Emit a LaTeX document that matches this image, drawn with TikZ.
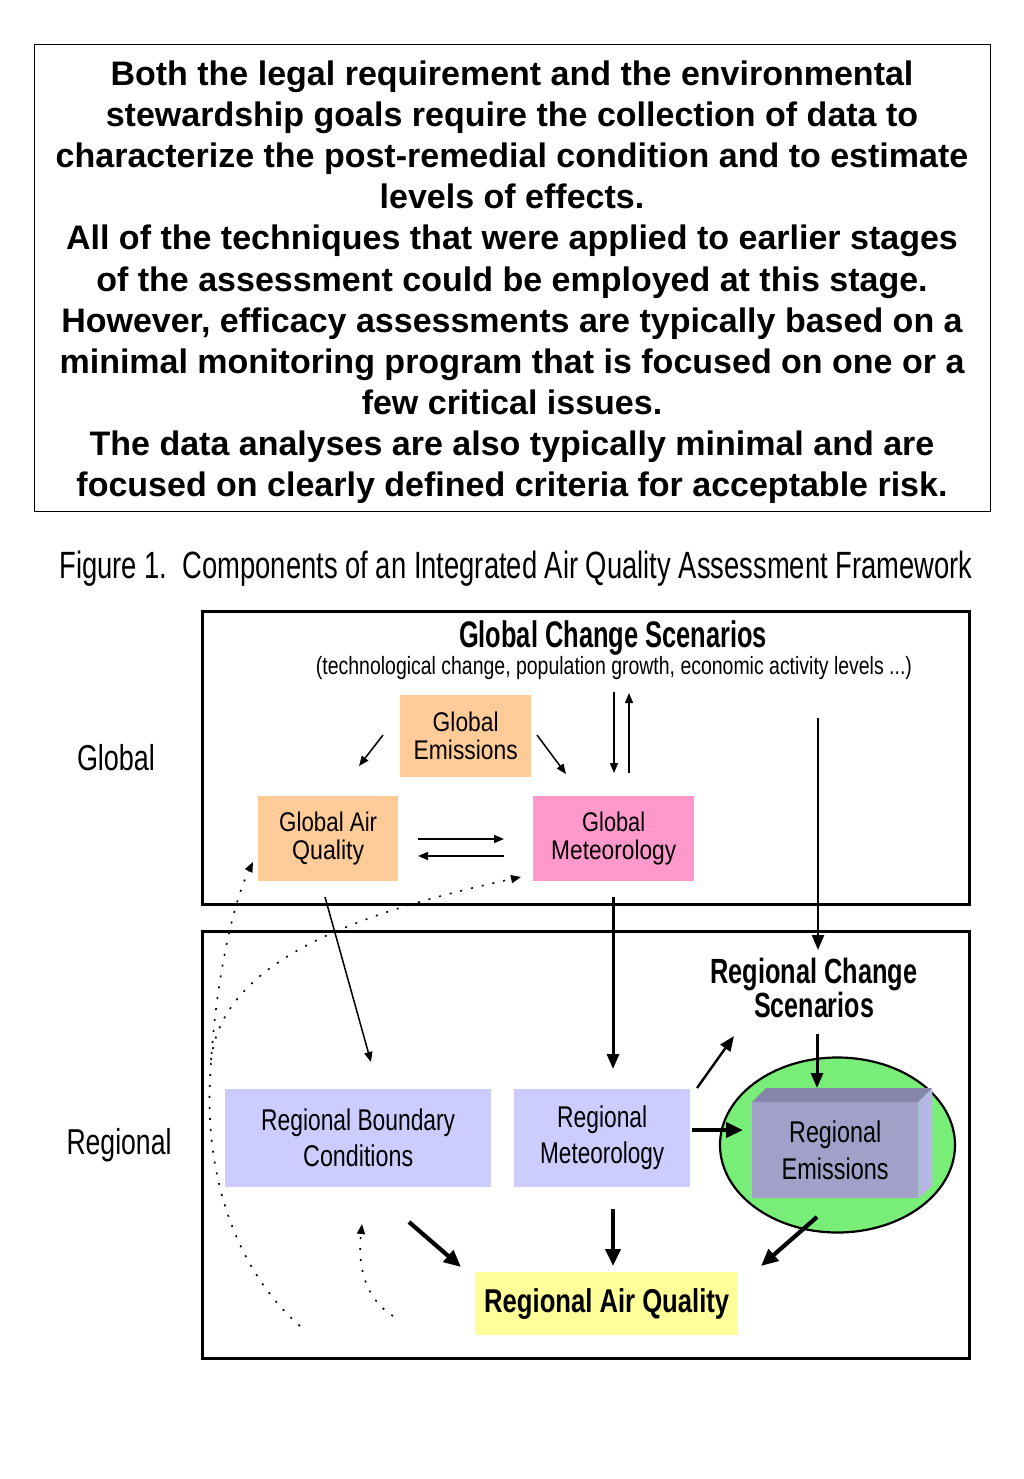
\documentclass[tikz,border=0pt]{standalone}
\usepackage{fontspec}
\setmainfont{Liberation Sans}
\usepackage{graphicx}
\usetikzlibrary{arrows.meta,shapes.geometric}
\definecolor{peach}{HTML}{FFCC99}
\definecolor{pinkm}{HTML}{FF99CC}
\definecolor{lav}{HTML}{CCCCFF}
\definecolor{yel}{HTML}{FFFF99}
\definecolor{grn}{RGB}{120,238,120}
\definecolor{frontf}{RGB}{160,160,200}
\definecolor{topf}{RGB}{134,134,172}
\definecolor{sidef}{RGB}{182,182,228}
\newcommand\fitw[2]{\resizebox{#1pt}{\height}{#2}}
\tikzset{
  boxn/.style={anchor=north west, inner sep=0pt, align=center},
  thinarr/.style={line width=1.5pt, -{Triangle[length=10pt,width=8pt]}},
  medarr/.style={line width=3pt, -{Triangle[length=15pt,width=12pt]}},
  thickarr/.style={line width=4.2pt, -{Triangle[length=17pt,width=15pt]}},
  dotarr/.style={line width=1.6pt, dash pattern=on 2pt off 9pt, -{Triangle[length=10pt,width=8pt]}},
  frame/.style={draw, anchor=north west, inner sep=0pt},
}
\begin{document}
\begin{tikzpicture}[x=1pt,y=-1pt]
\useasboundingbox (0,0) rectangle (1024,1479);
\fill[white] (0,0) rectangle (1024,1479);

% top text box
\node[frame, line width=1.3pt, minimum width=956pt, minimum height=467pt] (tbox) at (34,44) {};
\foreach \t [count=\i from 0] in {
  {Both the legal requirement and the environmental},
  {stewardship goals require the collection of data to},
  {characterize the post-remedial condition and to estimate},
  {levels of effects.},
  {All of the techniques that were applied to earlier stages},
  {of the assessment could be employed at this stage.},
  {However, efficacy assessments are typically based on a},
  {minimal monitoring program that is focused on one or a},
  {few critical issues.},
  {The data analyses are also typically minimal and are},
  {focused on clearly defined criteria for acceptable risk.}}
  \node[font=\fontsize{34}{41}\selectfont\bfseries, anchor=base, inner sep=0pt] (t\i) at (512,{86+41*\i}) {\t};

% caption
\node[font=\fontsize{38}{40}\selectfont, inner sep=0pt, anchor=base] (cap) at (516,578)
  {\fitw{913}{Figure 1.\ \ Components of an Integrated Air Quality Assessment Framework}};

% frames
\node[frame, line width=2.8pt, minimum width=767pt, minimum height=293pt] (gbox) at (201,610) {};
\node[frame, line width=2.8pt, minimum width=767pt, minimum height=427pt] (rbox) at (201,930) {};

% side labels
\node[font=\fontsize{36}{36}\selectfont, inner sep=0pt, anchor=base] (lglob) at (116,770) {\fitw{78}{Global}};
\node[font=\fontsize{36}{36}\selectfont, inner sep=0pt, anchor=base] (lreg) at (119,1154) {\fitw{105}{Regional}};

% global titles
\node[font=\fontsize{37}{40}\selectfont\bfseries, inner sep=0pt, anchor=base] (gcs) at (613,647) {\fitw{308}{Global Change Scenarios}};
\node[font=\fontsize{25}{28}\selectfont, inner sep=0pt, anchor=base] (gcsub) at (614,674)
  {\fitw{596}{(technological change, population growth, economic activity levels ...)}};

% global boxes
\node[boxn, fill=peach, minimum width=131pt, minimum height=82pt, font=\fontsize{27}{28}\selectfont] (ge) at (400,695)
  {\fitw{66}{Global}\\\fitw{104}{Emissions}};
\node[boxn, fill=peach, minimum width=140pt, minimum height=85pt, font=\fontsize{27}{28}\selectfont] (gaq) at (258,796)
  {\fitw{98}{Global Air}\\\fitw{72}{Quality}};
\node[boxn, fill=pinkm, minimum width=161pt, minimum height=85pt, font=\fontsize{27}{28}\selectfont] (gm) at (533,796)
  {\fitw{63}{Global}\\\fitw{125}{Meteorology}};

% regional nodes
\node[font=\fontsize{35}{31}\selectfont\bfseries, align=center, inner sep=0pt] (rcs) at (814,988)
  {\fitw{207}{Regional Change}\\\fitw{120}{Scenarios}};
\node[boxn, fill=lav, minimum width=266pt, minimum height=98pt, font=\fontsize{30}{36}\selectfont] (rbc) at (225,1089)
  {\fitw{194}{Regional Boundary}\\\fitw{110}{Conditions}};
\node[boxn, fill=lav, minimum width=176pt, minimum height=98pt, font=\fontsize{30}{36}\selectfont] (rm) at (514,1089)
  {\fitw{90}{Regional}\\\fitw{124}{Meteorology}};
\node[ellipse, draw, line width=2.2pt, fill=grn, minimum width=235pt, minimum height=175pt, inner sep=0pt] (ell) at (837.5,1145) {};
\node[boxn, fill=frontf, minimum width=166pt, minimum height=96pt, font=\fontsize{30}{37}\selectfont] (re) at (752,1102)
  {\fitw{92}{Regional}\\\fitw{107}{Emissions}};
\fill[topf] (re.north west) -- ++(14,-14) -- ++(166,0) -- (re.north east) -- cycle;
\fill[sidef] (re.north east) -- ++(14,-14) -- ++(0,97) -- (re.south east) -- cycle;
\node[boxn, fill=yel, minimum width=263pt, minimum height=63pt, font=\fontsize{33}{34}\selectfont\bfseries] (raq) at (475,1272)
  {\fitw{245}{Regional Air Quality}};

% coordinates for connector ends
\coordinate (a1s) at (383,735); \coordinate (a1e) at (359,766);
\coordinate (a2s) at (537,735); \coordinate (a2e) at (566,774);
\coordinate (a3s) at (614,692); \coordinate (a3e) at (614,773);
\coordinate (a4s) at (629,773); \coordinate (a4e) at (629,693);
\coordinate (a5s) at (418,839); \coordinate (a5e) at (504,839);
\coordinate (a6s) at (504,856); \coordinate (a6e) at (418,856);
\coordinate (a7s) at (818,718); \coordinate (a7e) at (818,950);
\coordinate (a8s) at (613,897); \coordinate (a8e) at (613,1069);
\coordinate (a9s) at (325,897); \coordinate (a9e) at (371,1062);
\coordinate (b1s) at (697,1088); \coordinate (b1e) at (734,1036);
\coordinate (b2s) at (692,1130); \coordinate (b2e) at (743,1130);
\coordinate (b3s) at (817,1034); \coordinate (b3e) at (817,1088);
\coordinate (b4s) at (613,1209); \coordinate (b4e) at (613,1266);
\coordinate (b5s) at (409,1222); \coordinate (b5e) at (461,1267);
\coordinate (b6s) at (817,1217); \coordinate (b6e) at (761,1266);

% global arrows
\draw[thinarr] (a1s) -- (a1e);
\draw[thinarr] (a2s) -- (a2e);
\draw[thinarr] (a3s) -- (a3e);
\draw[thinarr] (a4s) -- (a4e);
\draw[thinarr] (a5s) -- (a5e);
\draw[thinarr] (a6s) -- (a6e);
\draw[medarr, line width=2.4pt] (a7s) -- (a7e);
\draw[medarr] (a8s) -- (a8e);
\draw[thinarr] (a9s) -- (a9e);

% regional arrows
\draw[medarr, line width=2.4pt] (b1s) -- (b1e);
\draw[thickarr] (b2s) -- (b2e);
\draw[medarr] (b3s) -- (b3e);
\draw[thickarr] (b4s) -- (b4e);
\draw[thickarr] (b5s) -- (b5e);
\draw[thickarr] (b6s) -- (b6e);

% dotted feedback curves
\coordinate (d1s) at (300,1326); \coordinate (d1m) at (210,1080); \coordinate (d1e) at (253,862);
\coordinate (d2s) at (211,1060); \coordinate (d2e) at (521,877);
\coordinate (d3s) at (393,1316); \coordinate (d3e) at (362,1224);
\draw[dotarr] (d1s) .. controls (238,1272) and (205,1180) .. (d1m)
   .. controls (214,990) and (232,905) .. (d1e);
\draw[dotarr] (d2s) .. controls (222,960) and (360,912) .. (d2e);
\draw[dotarr] (d3s) .. controls (362,1296) and (358,1262) .. (d3e);
\end{tikzpicture}
\end{document}
